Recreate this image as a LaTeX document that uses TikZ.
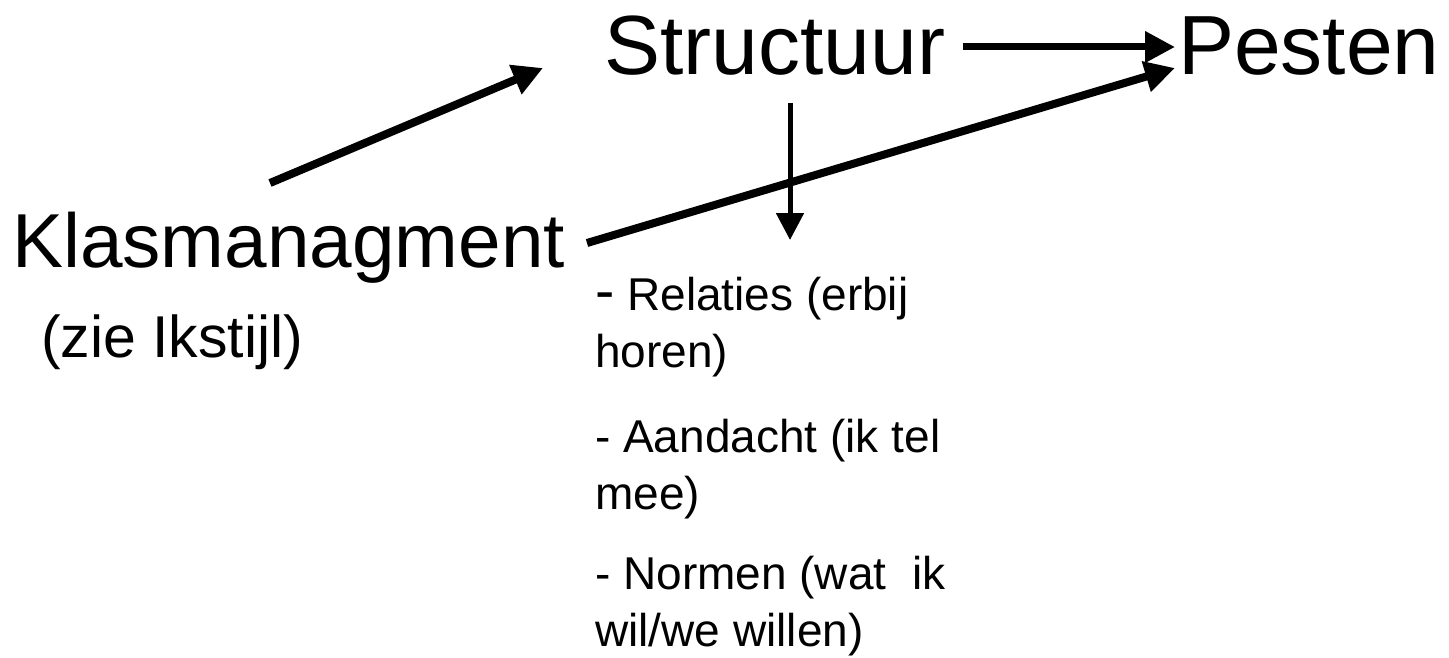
\documentclass[tikz,border=0pt]{standalone}
\usepackage{fontspec}
\setmainfont{Liberation Sans}
\usetikzlibrary{arrows.meta}
\begin{document}
\begin{tikzpicture}[x=1pt,y=-1pt,
  big/.style={inner sep=0pt,anchor=base west,font=\fontsize{84}{96}\selectfont},
  klasfont/.style={inner sep=0pt,anchor=base west,font=\fontsize{76.5}{90}\selectfont},
  mid/.style={inner sep=0pt,anchor=base west,font=\fontsize{59}{70}\selectfont},
  item/.style={inner sep=0pt,anchor=base west,align=left,font=\fontsize{46}{57}\selectfont},
  conn/.style={line width=8pt,-{Triangle[length=30pt,width=30pt]}},
  thin/.style={line width=5pt,-{Triangle[length=27pt,width=27pt]}}]
\useasboundingbox (0,0) rectangle (1449,658);
\node[klasfont] (klas) at (12,267) {Klasmanagment};
\node[mid] (zie) at (41,357) {(zie Ikstijl)};
\node[big] (struc) at (604,75) {Structuur};
\node[big] (pest) at (1178,75) {Pesten};
\node[item] (rel) at (595,367) {{\fontsize{58}{57}\selectfont-} Relaties (erbij\\horen)};
\node[item] (aan) at (595,509) {- Aandacht (ik tel\\mee)};
\node[item] (norm) at (595,646) {- Normen (wat\ \ ik\\wil/we willen)};
\coordinate (k1) at (270,183);
\coordinate (s1) at (543,68);
\coordinate (k2) at (587,243);
\coordinate (p2) at (1175,68);
\coordinate (s2) at (963,47);
\coordinate (p1) at (1175,47);
\coordinate (s3) at (790,103);
\coordinate (r3) at (790,240);
\draw[conn] (k1) -- (s1);
\draw[conn] (k2) -- (p2);
\draw[conn,line width=7pt] (s2) -- (p1);
\draw[thin] (s3) -- (r3);
\end{tikzpicture}
\end{document}
